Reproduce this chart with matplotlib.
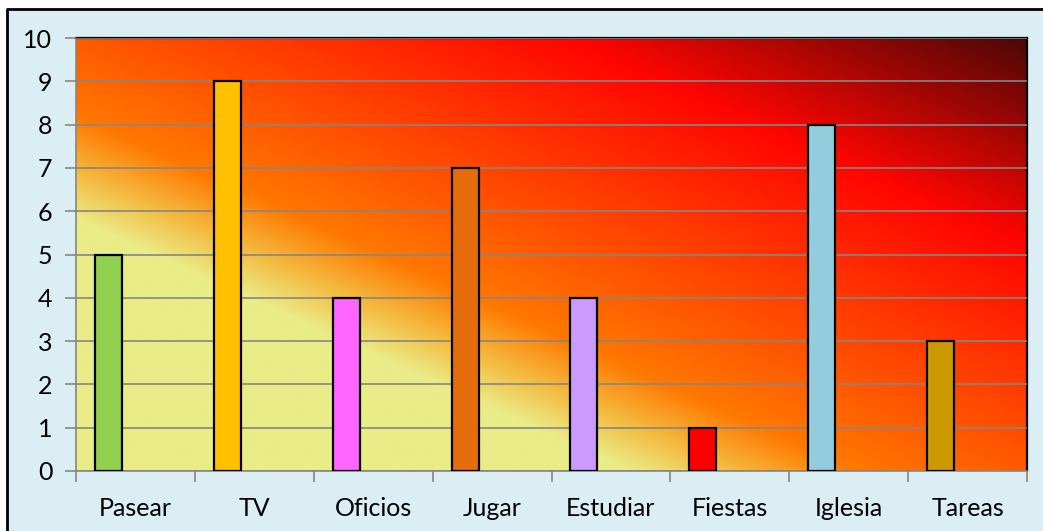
import numpy as np
import matplotlib
matplotlib.use("Agg")
import matplotlib.pyplot as plt
from matplotlib.colors import LinearSegmentedColormap
from matplotlib.patches import Rectangle
from matplotlib.lines import Line2D

# datos
categorias = ["Pasear", "TV", "Oficios", "Jugar", "Estudiar", "Fiestas", "Iglesia", "Tareas"]
valores = [5, 9, 4, 7, 4, 1, 8, 3]
colores = ["#92D050", "#FFC000", "#FF66FF", "#E46C0A", "#CC99FF", "#FF0000", "#93CDDD", "#CC9900"]
yticks = list(range(0, 11))

plt.rcParams['font.family'] = ['Lato', 'DejaVu Sans']

W, H = 1043, 531
fig = plt.figure(figsize=(W / 100, H / 100), dpi=100, facecolor="white")

# marco exterior azul claro (solo bordes izquierdo y superior visibles)
x0, y0 = 7 / W, (H - 9) / H
fig.patches.append(Rectangle((x0, 0), 1 - x0, y0, transform=fig.transFigure,
                             facecolor="#DBEEF3", edgecolor="none", zorder=-5))
fig.add_artist(Line2D([x0, x0, 1], [0, y0, y0], transform=fig.transFigure,
                      color="black", linewidth=2, zorder=-4))

ax = fig.add_axes([76 / W, (H - 471) / H, (1027 - 76) / W, (471 - 38) / H])
ax.set_zorder(2)

# fondo degradado (tipo "fuego")
fuego = LinearSegmentedColormap.from_list("fuego", [
    (0.0, "#EAEC88"), (0.29, "#EAEC88"), (0.345, "#F4BA40"),
    (0.41, "#FF7800"), (0.76, "#FF0500"), (1.0, "#4D0808")])
un, vn = np.meshgrid(np.linspace(0, 1, 400), np.linspace(0, 1, 200))
t = (un + vn) / 2
ax.imshow(fuego(t), extent=[0, 1, 0, 1], transform=ax.transAxes,
          origin="lower", aspect="auto", zorder=0, interpolation="bilinear")

x = np.arange(len(categorias))
ax.bar(x - 0.227, valores, width=0.227, color=colores, edgecolor="black",
       linewidth=1.6, zorder=3)

ax.set_xlim(-0.5, len(categorias) - 0.5)
ax.set_ylim(0, 10)
ax.set_yticks(yticks)
ax.set_yticklabels([str(v) for v in yticks])
ax.grid(axis="y", color="#868686", linewidth=1.2, zorder=1)
ax.set_axisbelow(False)

ax.set_xticks(x)
ax.set_xticklabels(categorias)
ax.set_xticks(np.arange(len(categorias) + 1) - 0.5, minor=True)
ax.tick_params(axis="x", which="major", length=0, pad=19, labelsize=18)
ax.tick_params(axis="x", which="minor", length=8, color="#868686", width=1.2)
ax.tick_params(axis="y", length=8, color="#868686", width=1.2, pad=9, labelsize=18)

for s in ["left", "bottom"]:
    ax.spines[s].set_color("#868686")
    ax.spines[s].set_linewidth(1.2)
for s in ["top", "right"]:
    ax.spines[s].set_color("black")
    ax.spines[s].set_linewidth(1.6)

fig.savefig("out.png", dpi=100, facecolor=fig.get_facecolor())
